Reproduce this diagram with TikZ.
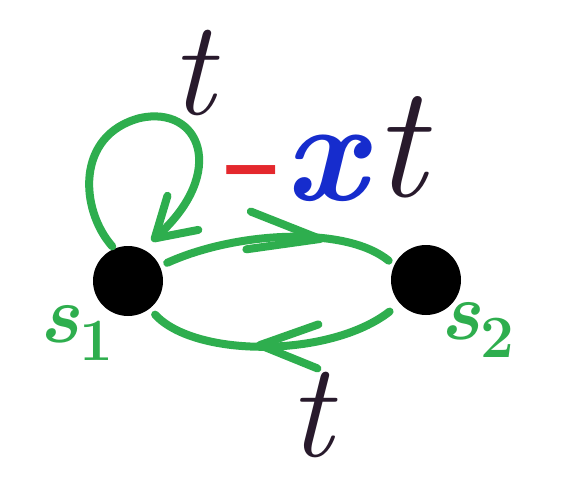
\documentclass[tikz,border=0pt]{standalone}
\usepackage{fontspec}
\newfontfamily\dejavufont{DejaVu Sans}
\usetikzlibrary{arrows.meta,decorations.markings,shapes.geometric}
\definecolor{mgreen}{RGB}{46,174,78}
\definecolor{mblue}{RGB}{22,44,205}
\definecolor{mred}{RGB}{228,40,45}
\definecolor{mink}{RGB}{40,26,44}
\tikzset{
  statenode/.style={circle,fill=black,draw=none,minimum size=70pt,inner sep=0pt},
  edgeline/.style={draw=mgreen,line width=8pt,line cap=round,line join=round},
  midarrow/.style args={#1/#2/#3}{postaction={decorate,decoration={markings,
     mark=at position #1 with {\arrow{Straight Barb[length=#2,width=#3,round]}}}}},
  biglbl/.style={text=mink,font=\fontsize{135}{135}\selectfont\itshape,inner sep=0pt},
  statelbl/.style={text=mgreen,font=\fontsize{82}{82}\selectfont\bfseries\itshape,inner sep=0pt}
}
\begin{document}
\begin{tikzpicture}[x=1pt,y=-1pt]
\fill[white] (0,0) rectangle (563,490);
\useasboundingbox (0,0) rectangle (563,490);

\node[statenode] (s1) at (128,281) {};
\node[statenode] (s2) at (426,280) {};

% self loop on s1
\draw[edgeline,shorten <=3pt,shorten >=12pt,-{Straight Barb[length=38pt,width=46pt,round]}]
  (s1.113) .. controls (80,210) and (75,135) .. (140,118)
           .. controls (200,105) and (228,172) .. (s1.65);

% s1 -> s2
\draw[edgeline,shorten <=8pt,shorten >=7pt,midarrow=0.69/72pt/38pt]
  (s1.25) .. controls (235,232) and (345,225) .. (s2.155);

% s2 -> s1
\draw[edgeline,shorten <=13pt,shorten >=8pt,midarrow=0.57/58pt/44pt]
  (s2.222) .. controls (330,358) and (195,358) .. (s1.308);

% labels
\node[biglbl] (tloop) at (192,73) {t};
\node[inner sep=0pt,text=mred,font=\fontsize{78}{78}\selectfont\dejavufont\bfseries] (minus) at (251,180) {−};
\node[inner sep=0pt,text=mblue,font=\fontsize{145}{145}\selectfont\bfseries\itshape] (xvar) at (325,168) {x};
\node[biglbl,font=\fontsize{160}{160}\selectfont\itshape] (ttop) at (399,147) {t};
\node[biglbl] (tbot) at (310,415) {t};
\node[statelbl] (l1) at (76,333) {s\raisebox{-0.22em}{\fontsize{60}{60}\selectfont\upshape 1}};
\node[statelbl] (l2) at (477,330) {s\raisebox{-0.22em}{\fontsize{60}{60}\selectfont\upshape 2}};
\end{tikzpicture}
\end{document}
